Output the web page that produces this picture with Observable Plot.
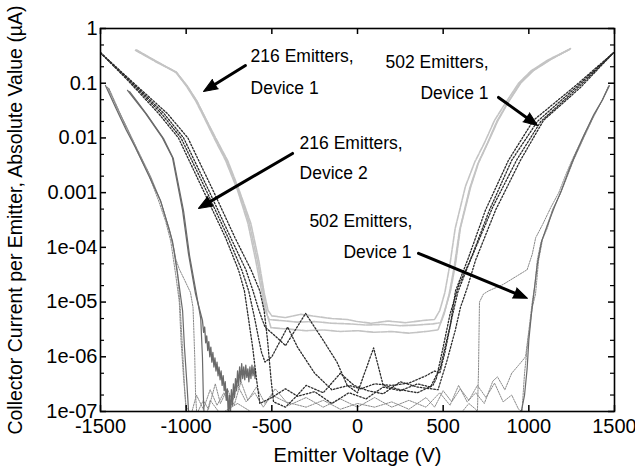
<!DOCTYPE html>
<html><head><meta charset="utf-8">
<script src="https://cdn.jsdelivr.net/npm/d3@7"></script>
<script src="https://cdn.jsdelivr.net/npm/@observablehq/plot@0.6"></script>
<style>body{margin:0;background:#fff}</style>
</head><body><div id="chart"></div>
<script>
// ---- axis ticks ----
const xTicks = [-1500, -1000, -500, 0, 500, 1000, 1500];
const xTickLabels = ["-1500", "-1000", "-500", "0", "500", "1000", "1500"];
const yTicks = [1e-7, 1e-6, 1e-5, 1e-4, 1e-3, 1e-2, 1e-1, 1];
const yTickLabels = ["1e-07", "1e-06", "1e-05", "1e-04", "0.001", "0.01", "0.1", "1"];
const yMinor = [2e-7, 5e-7, 2e-6, 5e-6, 2e-5, 5e-5, 2e-4, 5e-4, 2e-3, 5e-3, 0.02, 0.05, 0.2, 0.5];

// ---- 216 Emitters, Device 1 (light gray sweeps) ----
const d216a = [[-1296,0.40],[-1180,0.25],[-1062,0.16],[-1000,0.09],[-945,0.048],[-887,0.021],[-829,0.0089],[-770,0.0039],[-700,1.1e-3],[-640,2.8e-4],[-595,6e-5],[-560,1.6e-5],[-540,7e-6],[-515,4.8e-6],[-450,4.6e-6],[-350,4.3e-6],[-250,4.4e-6],[-150,4.1e-6],[-50,4.0e-6],[50,3.8e-6],[150,3.9e-6],[250,3.7e-6],[350,3.8e-6],[440,4.0e-6],[485,4.2e-6],[515,8e-6],[543,1.6e-5],[572,5e-5],[601,2.3e-4],[660,1.25e-3],[706,3.5e-3],[759,7.9e-3],[817,0.02],[876,0.043],[952,0.1],[1027,0.17],[1127,0.27],[1243,0.43]];
const d216b = [[-1292,0.405],[-1176,0.25],[-1058,0.16],[-996,0.09],[-940,0.048],[-882,0.021],[-823,0.0089],[-763,0.0039],[-694,1.1e-3],[-632,2.8e-4],[-586,6e-5],[-552,1.6e-5],[-528,6e-6],[-505,3.4e-6],[-400,3.2e-6],[-300,3.0e-6],[-200,3.1e-6],[-100,2.9e-6],[0,3.0e-6],[100,2.8e-6],[200,2.9e-6],[300,2.7e-6],[400,2.9e-6],[470,3.1e-6],[505,6e-6],[535,1.4e-5],[565,4.5e-5],[595,2e-4],[655,1.2e-3],[703,3.4e-3],[755,7.6e-3],[813,0.02],[873,0.042],[948,0.1],[1023,0.17],[1124,0.27],[1241,0.42]];
const d216c = [[-1288,0.40],[-1172,0.25],[-1055,0.155],[-993,0.088],[-937,0.047],[-878,0.02],[-818,0.0087],[-757,0.0038],[-688,1.05e-3],[-622,2.7e-4],[-576,5.7e-5],[-545,1.5e-5],[-522,7e-6],[-500,5.6e-6],[-420,5.2e-6],[-330,6e-6],[-250,5.5e-6],[-150,5.0e-6],[-60,4.8e-6],[0,4.4e-6],[80,4.1e-6],[180,4.5e-6],[280,4.2e-6],[380,4.6e-6],[450,4.8e-6],[480,7e-6],[510,1.5e-5],[540,5e-5],[570,2.2e-4],[630,1.3e-3],[684,3.6e-3],[740,8e-3],[800,0.021],[865,0.044],[940,0.1],[1015,0.17],[1115,0.27],[1235,0.41]];

// ---- 502 Emitters, Device 1 (dark dotted sweeps) ----
const d502a = [[-1500,0.36],[-1337,0.11],[-1161,0.028],[-1045,0.010],[-892,9.7e-4],[-770,1.5e-4],[-694,3.8e-5],[-660,1.6e-5],[-640,6e-6],[-612,1.5e-6],[-590,4e-7],[-570,1.4e-7],[-500,1.8e-7],[-420,2.6e-7],[-350,1.9e-7],[-250,2.3e-7],[-150,1.4e-7],[-50,2.2e-7],[50,1.7e-7],[150,2.8e-7],[250,2.4e-7],[350,3.2e-7],[426,2.8e-7],[484,6.4e-7],[543,4e-6],[572,1.6e-5],[642,5.8e-5],[747,4.8e-4],[881,3.9e-3],[1027,0.021],[1261,0.084],[1494,0.36]];
const d502b = [[-1500,0.36],[-1330,0.11],[-1145,0.028],[-1030,0.010],[-875,9.7e-4],[-755,1.5e-4],[-675,3.8e-5],[-635,1.6e-5],[-600,5e-6],[-575,2e-6],[-560,1.2e-6],[-540,8e-7],[-500,1.0e-6],[-408,3.5e-6],[-350,1.5e-6],[-250,5e-7],[-150,2.5e-7],[-50,3e-7],[20,2.6e-7],[100,3.2e-7],[200,3e-7],[300,3.3e-7],[400,4.5e-7],[450,5.5e-7],[480,5e-7],[510,1.2e-6],[550,5e-6],[585,1.5e-5],[660,6e-5],[770,4.8e-4],[900,3.9e-3],[1050,0.02],[1275,0.084],[1494,0.36]];
const d502c = [[-1500,0.36],[-1325,0.11],[-1130,0.028],[-1015,0.010],[-860,9.7e-4],[-740,1.5e-4],[-650,3.8e-5],[-610,1.6e-5],[-575,7e-6],[-540,3.5e-6],[-480,2.4e-6],[-420,1.6e-6],[-303,6.2e-6],[-200,2.0e-6],[-120,8e-7],[-60,3e-7],[0,2.2e-7],[94,1.45e-6],[150,3e-7],[250,2.5e-7],[350,2.2e-7],[440,3e-7],[460,4e-7],[500,1.5e-6],[540,6e-6],[590,2e-5],[670,7e-5],[790,5.5e-4],[930,4e-3],[1070,0.02],[1290,0.085],[1494,0.36]];
const d502d = [[-1500,0.36],[-1320,0.11],[-1110,0.028],[-990,0.010],[-835,9.7e-4],[-715,1.5e-4],[-620,3.8e-5],[-570,1.6e-5],[-545,7e-6],[-525,2e-6],[-505,4e-7],[-490,1.5e-7],[-420,1.2e-7],[-350,2.0e-7],[-300,3e-7],[-200,2.2e-7],[-100,5e-7],[-20,3e-7],[60,2.4e-7],[150,2.1e-7],[250,3.5e-7],[350,2.8e-7],[470,2.5e-7],[520,8e-7],[570,3e-6],[601,8e-6],[640,1.8e-5],[689,5.8e-5],[806,4.8e-4],[951,3.9e-3],[1086,0.021],[1302,0.084],[1494,0.36]];

// ---- 216 Emitters, Device 2 (medium gray solid) ----
const d216d2a = [[-1471,0.091],[-1412,0.036],[-1350,0.014],[-1296,0.0067],[-1220,0.0021],[-1150,7.2e-4],[-1080,1.3e-4],[-1045,2.5e-5],[-1021,7e-6],[-1010,1.5e-6],[-995,3e-7],[-986,1e-7],[-970,8e-8],[950,8e-8],[975,2e-7],[990,6e-7],[1000,2e-6],[1015,6e-6],[1030,1.5e-5],[1050,5e-5],[1075,1.3e-4],[1110,2.6e-4],[1150,5.5e-4],[1190,1.1e-3],[1230,2.4e-3],[1265,4.5e-3],[1320,0.011],[1380,0.027],[1430,0.05],[1470,0.09]];
const d216d2b = [[-1342,0.074],[-1300,0.05],[-1237,0.028],[-1138,0.010],[-1080,0.0044],[-1021,4.8e-4],[-986,7.5e-5],[-945,1.4e-5],[-905,4.6e-6],[-898,2.8e-6],[-892,3.5e-6],[-886,1.8e-6],[-880,2.4e-6],[-874,1.3e-6],[-868,1.9e-6],[-862,1.0e-6],[-856,1.5e-6],[-850,8e-7],[-844,1.2e-6],[-838,6.5e-7],[-832,9.5e-7],[-826,5.5e-7],[-820,8e-7],[-814,4.5e-7],[-808,6.5e-7],[-802,3.8e-7],[-796,5.5e-7],[-790,3.0e-7],[-784,4.5e-7],[-778,2.4e-7],[-772,3.5e-7],[-766,1.6e-7],[-760,2.6e-7],[-754,8e-8],[-748,2.0e-7],[-742,9e-8],[-736,2.5e-7],[-730,1.3e-7],[-724,3.2e-7],[-718,1.8e-7],[-712,4.0e-7],[-706,2.4e-7],[-700,5.5e-7],[-694,3.0e-7],[-688,6.5e-7],[-682,3.5e-7],[-676,7.5e-7],[-670,4.0e-7],[-664,6.5e-7],[-658,3.8e-7],[-652,7.0e-7],[-646,4.2e-7],[-640,6.0e-7],[-634,3.5e-7],[-628,6.5e-7],[-622,4.0e-7],[-616,7e-7],[-610,4.5e-7],[-604,6.5e-7],[-598,4.0e-7],[-595,5.5e-7]];
const d216d2c = [[-1330,0.07],[-1290,0.048],[-1230,0.027],[-1130,0.0095],[-1075,0.0042],[-1015,4.6e-4],[-980,7e-5],[-940,1.4e-5],[-915,5e-6],[-905,1e-6],[-900,2e-7],[-895,8e-8]];

// ---- 502 Emitters, Device 1 (gray dotted sweeps near ±1000 V) ----
const d502e = [[-1460,0.085],[-1400,0.033],[-1290,0.006],[-1215,0.002],[-1160,7e-4],[-1120,3e-4],[-1090,1.3e-4],[-1060,3e-5],[-1040,1e-5],[-1030,2e-6],[-1015,4e-7],[-1000,1.2e-7],[-970,9e-8],[-940,2e-7],[-900,1.1e-7],[-860,2.5e-7],[-820,1.3e-7],[-780,2.2e-7],[-740,1.2e-7],[-700,3e-7],[-650,1.5e-7],[-600,2.2e-7],[-550,1.2e-7],[-500,2e-7],[-420,1.5e-7],[-300,1.2e-7],[-200,1.6e-7],[-100,1.1e-7],[0,1.4e-7],[100,1.2e-7],[200,1.5e-7],[300,1.1e-7],[400,1.8e-7],[450,1.2e-7],[500,2.4e-7],[550,1.5e-7],[600,2.6e-7],[650,1.6e-7],[700,3e-7],[750,1.8e-7],[800,3.3e-7],[850,1.5e-7],[900,2e-7],[940,1.1e-7],[960,1e-7],[975,5e-7],[995,2e-6],[1020,8e-6],[1039,1.4e-5],[1057,5.8e-5],[1080,1.4e-4],[1109,2.3e-4],[1140,5e-4],[1185,9.7e-4],[1225,2e-3],[1261,3.9e-3],[1320,0.01],[1380,0.025],[1430,0.05],[1466,0.09]];
const d502f = [[-1450,0.08],[-1390,0.03],[-1290,0.0065],[-1210,0.002],[-1150,7e-4],[-1100,2.2e-4],[-1075,1e-4],[-1060,6e-5],[-1040,4e-5],[-1000,2.2e-5],[-975,1.5e-5],[-960,8e-6],[-950,1e-6],[-945,2e-7],[-938,9e-8],[-900,1.6e-7],[-870,1.1e-7],[-830,3.2e-7],[-800,1.4e-7],[-760,2.6e-7],[-720,1.3e-7],[-680,3.5e-7],[-640,1.6e-7],[-590,2.8e-7],[-540,1.4e-7],[-480,2.6e-7],[-400,1.3e-7],[-300,1.8e-7],[-200,1.2e-7],[-100,1.7e-7],[0,1.2e-7],[100,1.8e-7],[200,1.2e-7],[300,1.6e-7],[400,1.2e-7],[480,2.2e-7],[540,1.3e-7],[590,3e-7],[640,1.5e-7],[690,2.2e-7],[740,1.4e-7],[790,3.6e-7],[817,4.3e-7],[860,2.5e-7],[900,5e-7],[940,7e-7],[981,1e-6],[1000,3e-6],[1020,1e-5],[1035,2e-5],[1050,6e-5],[1070,1.2e-4],[1100,2.2e-4],[1138,4.8e-4],[1180,9e-4],[1220,1.9e-3],[1255,3.7e-3],[1315,0.0095],[1375,0.024],[1428,0.048],[1468,0.09]];
const d502g = [[-1455,0.082],[-1395,0.032],[-1285,0.0062],[-1205,0.0019],[-1145,6.5e-4],[-1095,2e-4],[-1070,9e-5],[-1050,3.5e-5],[-1035,8e-6],[-1022,1.5e-6],[-1010,3e-7],[-1000,9e-8],[-880,9e-8],[-860,1.6e-7],[-800,9e-8],[-700,1.4e-7],[-600,9e-8],[600,9e-8],[650,1.4e-7],[690,1.1e-7],[700,1e-7],[706,5e-7],[712,1e-5],[735,1.4e-5],[765,1.6e-5],[850,2.1e-5],[990,3.9e-5],[1020,7.5e-5],[1040,1.5e-4],[1080,2.6e-4],[1130,5.5e-4],[1175,1e-3],[1215,2.1e-3],[1250,3.8e-3],[1310,9.5e-3],[1370,0.023],[1425,0.047],[1465,0.088]];

// ---- annotations ----
const annStartText = ["216 Emitters,", "Device 1", "216 Emitters,", "Device 2"];
const annStartX = [-624, -624, -338, -338];
const annStartY = [0.308, 0.0802, 0.00794, 0.00225];
const annEndText = ["502 Emitters,", "Device 1", "502 Emitters,", "Device 1"];
const annEndX = [765, 765, 321, 315];
const annEndY = [0.239, 0.065, 2.99e-4, 8.1e-5];
const arrowX1 = [-654, 823, -379, 356];
const arrowY1 = [0.211, 0.055, 0.00521, 7.8e-5];
const arrowX2 = [-899, 1051, -928, 992];
const arrowY2 = [0.0707, 0.0169, 5.15e-4, 1.17e-5];

const xAxisTitle = "Emitter Voltage (V)";
const yAxisTitle = "Collector Current per Emitter, Absolute Value (\u00b5A)";

const mL = 100, mR = 21, mT = 28, mB = 64, W = 635, H = 475;
const plotW = W - mL - mR;
const plotH = H - mT - mB;
const xDomain = [-1500, 1500];
const yDomain = [1e-7, 1];

// pixel-space helpers for arrowhead orientation (same scales as the plot)
const sx = Plot.scale({x: {domain: xDomain, range: [mL, W - mR]}});
const sy = Plot.scale({y: {type: "log", domain: yDomain, range: [H - mB, mT]}});
const arrowRot = arrowX1.map((d, i) => {
  const dx = sx.apply(arrowX2[i]) - sx.apply(arrowX1[i]);
  const dy = sy.apply(arrowY2[i]) - sy.apply(arrowY1[i]);
  return Math.atan2(dx, -dy) * 180 / Math.PI;
});

function trace(data, style) {
  return Plot.line(data, {x: d => d[0], y: d => d[1], clip: true, curve: "linear", strokeLinejoin: "round", ...style});
}
const lightStyle = {stroke: "#c4c4c4", strokeWidth: 1.6, strokeDasharray: "6,1.2"};
const darkStyle = {stroke: "#2b2b2b", strokeWidth: 1.3, strokeDasharray: "1.6,1.8"};
const midStyle = {stroke: "#6a6a6a", strokeWidth: 1.2};
const dotStyle = {stroke: "#8a8a8a", strokeWidth: 1, strokeDasharray: "1.5,1.2"};

const chart = Plot.plot({
  width: W, height: H,
  marginLeft: mL, marginRight: mR, marginTop: mT, marginBottom: mB,
  x: {domain: xDomain, axis: null},
  y: {type: "log", domain: yDomain, axis: null},
  style: {fontFamily: "'Liberation Sans', Arial, sans-serif", fontSize: "20px", background: "#fff", color: "#000", overflow: "visible"},
  marks: [
    trace(d216a, lightStyle), trace(d216b, lightStyle), trace(d216c, lightStyle),
    trace(d502e, dotStyle), trace(d502f, dotStyle), trace(d502g, dotStyle),
    trace(d216d2a, midStyle), trace(d216d2b, {...midStyle, strokeWidth: 1.3}), trace(d216d2c, midStyle),
    trace(d502a, darkStyle), trace(d502b, darkStyle), trace(d502c, darkStyle), trace(d502d, darkStyle),
    // ticks (inward)
    Plot.tickX(xTicks, {x: d => d, insetTop: plotH - 6, stroke: "#000", strokeWidth: 1.5}),
    Plot.tickX(xTicks, {x: d => d, insetBottom: plotH - 6, stroke: "#000", strokeWidth: 1.5}),
    Plot.tickY(yTicks, {y: d => d, insetRight: plotW - 6, stroke: "#000", strokeWidth: 1.5}),
    Plot.tickY(yTicks, {y: d => d, insetLeft: plotW - 6, stroke: "#000", strokeWidth: 1.5}),
    Plot.tickY(yMinor, {y: d => d, insetRight: plotW - 4, stroke: "#000", strokeWidth: 1.2}),
    Plot.tickY(yMinor, {y: d => d, insetLeft: plotW - 4, stroke: "#000", strokeWidth: 1.2}),
    Plot.frame({stroke: "#000", strokeWidth: 1.6}),
    // tick labels
    Plot.text(xTicks, {x: d => d, text: (d, i) => xTickLabels[i], frameAnchor: "bottom", textAnchor: "middle", dy: 21, fontSize: 20, fill: "#000"}),
    Plot.text(yTicks, {y: d => d, text: (d, i) => yTickLabels[i], frameAnchor: "left", textAnchor: "end", dx: -3, fontSize: 20, fill: "#000"}),
    // axis titles
    Plot.text([xAxisTitle], {text: d => d, frameAnchor: "bottom", textAnchor: "middle", dy: 50, fontSize: 20, fill: "#000"}),
    Plot.text([yAxisTitle], {text: d => d, frameAnchor: "left", textAnchor: "middle", rotate: -90, dx: -85, fontSize: 19.5, fill: "#000"}),
    // annotations
    Plot.text(annStartText, {x: (d, i) => annStartX[i], y: (d, i) => annStartY[i], text: d => d, textAnchor: "start", fontSize: 17.5, fill: "#000"}),
    Plot.text(annEndText, {x: (d, i) => annEndX[i], y: (d, i) => annEndY[i], text: d => d, textAnchor: "end", fontSize: 17.5, fill: "#000"}),
    Plot.arrow(arrowX1, {x1: d => d, y1: (d, i) => arrowY1[i], x2: (d, i) => arrowX2[i], y2: (d, i) => arrowY2[i], stroke: "#000", strokeWidth: 3, headLength: 0, insetEnd: 9}),
    Plot.vector(arrowX2, {x: d => d, y: (d, i) => arrowY2[i], rotate: (d, i) => arrowRot[i], length: 14, anchor: "end", shape: "spike", r: 5.5, fill: "#000", stroke: "#000", strokeWidth: 1})
  ]
});
document.getElementById("chart").appendChild(chart);
</script>
</body></html>
